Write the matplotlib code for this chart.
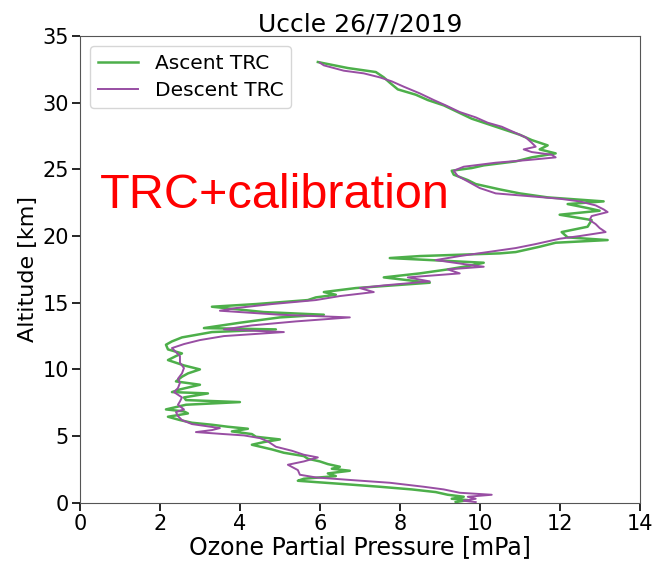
import numpy as np
import matplotlib.pyplot as plt

# ascent profile (bottom -> top)
asc_alt = [0.05, 0.2, 0.3, 0.45, 0.6, 0.8, 1.0, 1.2, 1.4, 1.55, 1.65, 1.8, 2.0, 2.2, 2.4, 2.55, 2.7, 2.9,
           3.1, 3.3, 3.5, 3.75, 4.0, 4.35, 4.55, 4.75, 4.95, 5.15, 5.35, 5.55, 5.7, 5.85, 6.0, 6.2, 6.45,
           6.7, 6.85, 7.0, 7.35, 7.55, 7.7, 7.9, 8.2, 8.3, 8.5, 8.85, 9.1, 9.45, 9.7, 10.0, 10.3, 10.7,
           11.0, 11.2, 11.5, 11.85, 12.1, 12.4, 12.8, 13.0, 13.1, 13.5, 13.9, 14.1, 14.3, 14.7, 14.9,
           15.2, 15.4, 15.6, 15.8, 16.1, 16.5, 16.9, 17.2, 17.5, 17.8, 18.0, 18.35, 18.5, 18.7, 18.8,
           19.2, 19.5, 19.7, 19.9, 20.3, 20.7, 21.2, 21.4, 21.6, 21.9, 22.1, 22.4, 22.6, 22.9, 23.2,
           23.5, 23.9, 24.2, 24.6, 24.9, 25.1, 25.3, 25.6, 25.9, 26.2, 26.5, 26.8, 27.2, 27.6, 28.0,
           28.4, 28.8, 29.3, 29.8, 30.2, 30.6, 31.0, 31.5, 31.9, 32.3, 32.6, 32.9, 33.05]
asc_o3 = [9.4, 9.7, 9.3, 9.6, 9.2, 8.9, 8.3, 7.5, 6.6, 5.9, 5.45, 5.6, 6.4, 6.2, 6.75, 6.3, 6.5, 6.2,
          6.0, 5.7, 5.6, 5.1, 4.8, 4.3, 4.6, 5.0, 4.4, 4.3, 3.8, 4.2, 3.7, 3.3, 2.8, 2.5, 2.2,
          2.7, 2.6, 2.15, 2.65, 4.0, 2.65, 2.6, 3.2, 2.3, 2.5, 3.0, 2.4, 2.55, 2.7, 3.0, 2.6, 2.2,
          2.4, 2.55, 2.2, 2.15, 2.3, 2.55, 3.3, 4.9, 3.1, 4.0, 5.0, 6.1, 4.6, 3.3, 4.4,
          5.7, 5.9, 6.4, 6.1, 6.9, 8.75, 7.6, 8.5, 9.2, 9.8, 10.1, 7.75, 8.5, 10.5, 10.9,
          11.5, 11.9, 13.2, 12.2, 12.05, 12.7, 12.8, 12.4, 12.0, 13.0, 12.7, 12.2, 13.1, 11.7, 11.0,
          10.5, 9.9, 9.7, 9.35, 9.3, 9.8, 10.1, 10.9, 11.3, 11.9, 11.5, 11.7, 11.3, 11.0, 10.6,
          10.2, 9.8, 9.45, 9.1, 8.7, 8.4, 7.95, 7.75, 7.6, 7.4, 6.7, 6.2, 5.95]

# descent profile (top -> bottom)
desc_alt = [33.0, 32.8, 32.4, 32.2, 31.9, 31.6, 31.2, 30.7, 30.2, 29.8, 29.3, 28.9, 28.5, 28.2, 27.8,
            27.4, 27.0, 26.7, 26.5, 26.3, 26.1, 25.9, 25.7, 25.5, 25.2, 24.9, 24.5, 24.1, 23.6, 23.2,
            23.0, 22.8, 22.6, 22.3, 22.0, 21.8, 21.5, 21.2, 20.9, 20.6, 20.3, 20.0, 19.8, 19.4, 19.1,
            18.8, 18.5, 18.2, 17.9, 17.7, 17.5, 17.2, 16.9, 16.6, 16.3, 16.1, 15.8, 15.5, 15.2, 14.9,
            14.6, 14.4, 14.1, 13.9, 13.6, 13.3, 13.0, 12.8, 12.5, 12.2, 11.9, 11.6, 11.3, 11.0, 10.5,
            10.1, 9.7, 9.3, 9.0, 8.6, 8.3, 7.9, 7.6, 7.35, 7.0, 6.8, 6.5, 6.2, 5.9, 5.6, 5.45, 5.3,
            5.15, 5.05, 4.85, 4.6, 4.2, 3.9, 3.6, 3.4, 3.1, 2.85, 2.45, 2.1, 1.9, 1.7, 1.5, 1.2, 1.0,
            0.75, 0.6, 0.45, 0.3, 0.15, 0.05]
desc_o3 = [6.0, 6.1, 6.6, 7.1, 7.5, 7.8, 8.1, 8.5, 8.85, 9.15, 9.5, 9.9, 10.2, 10.55, 10.85,
           11.15, 11.3, 11.4, 11.1, 11.3, 11.8, 11.9, 11.2, 10.4, 9.6, 9.35, 9.45, 9.7, 10.0, 10.4,
           11.2, 12.0, 12.5, 12.9, 13.1, 13.2, 12.8, 12.75, 12.9, 13.0, 13.15, 12.5, 12.0, 11.4, 10.9,
           10.2, 9.5, 8.9, 9.6, 10.1, 9.2, 9.5, 8.2, 8.75, 7.6, 7.0, 7.35, 6.5, 5.9, 4.8,
           3.9, 3.5, 5.0, 6.75, 5.4, 4.3, 3.6, 5.1, 3.6, 3.0, 2.6, 2.3, 2.4, 2.5, 2.5,
           2.6, 2.55, 2.45, 2.5, 2.45, 2.35, 2.55, 2.5, 2.45, 2.6, 2.4, 2.45, 2.55, 2.8, 3.5, 3.3, 2.9,
           3.6, 4.1, 4.5, 4.7, 4.9, 5.3, 5.6, 5.95, 5.6, 5.2, 5.45, 5.5, 5.9, 6.8, 7.75, 8.6, 9.1,
           9.5, 10.3, 9.7, 9.9, 9.6, 9.9]

fig = plt.figure(figsize=(6.56, 5.63), dpi=100)
ax = fig.add_axes([0.122, 0.107, 0.853, 0.829])

ax.plot(asc_o3, asc_alt, color='#4daf4a', lw=1.8, label='Ascent TRC')
ax.plot(desc_o3, desc_alt, color='#984ea3', lw=1.4, label='Descent TRC')

ax.set_xlim(0, 14)
ax.set_ylim(0, 35)
ax.set_xticks(np.arange(0, 15, 2))
ax.set_yticks(np.arange(0, 36, 5))
ax.tick_params(labelsize=15, length=6, width=1.2, pad=2)
ax.set_xlabel('Ozone Partial Pressure [mPa]', fontsize=17, labelpad=1)
ax.set_ylabel('Altitude [km]', fontsize=16, labelpad=3)
ax.set_title('Uccle 26/7/2019', fontsize=18, pad=3)
for s in ax.spines.values():
    s.set_color('#555555')

ax.legend(loc='upper left', fontsize=14.5, handlelength=2.0, borderaxespad=0.5,
          labelspacing=0.4)
ax.text(0.5, 22.1, 'TRC+calibration', color='red', fontsize=35,
        family='Liberation Sans', ha='left', va='baseline')

fig.savefig('out.png', dpi=100)
